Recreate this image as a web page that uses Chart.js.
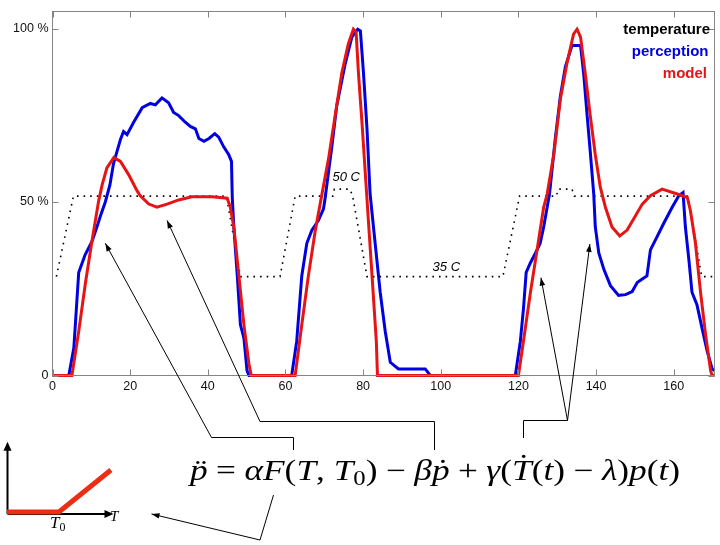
<!DOCTYPE html>
<html>
<head>
<meta charset="utf-8">
<script src="https://cdn.jsdelivr.net/npm/chart.js@4.4.1/dist/chart.umd.min.js"></script>
<style>
  html, body { margin: 0; padding: 0; background: #fff; }
  #wrap { position: relative; width: 720px; height: 545px; overflow: hidden; }
  #myChart { position: absolute; left: 0; top: 0; }
  #inset { position: absolute; left: 0; top: 430px; }
  .eq { position: absolute; left: 190px; top: 455.5px; font-family: 'Liberation Serif', serif; font-size: 29px;
        line-height: 1; white-space: nowrap; color: #000; transform-origin: 0 0; }
  .eq i { font-style: italic; }
  .op { margin: 0 0.24em; }
  .acc { position: relative; display: inline-block; }
  .acc .d { position: absolute; left: 0.12em; right: 0; text-align: center; top: 0; font-style: normal; }
  .acc .dT { position: absolute; left: 0.1em; right: 0; text-align: center; top: -0.14em; font-style: normal; }
  .sb { font-size: 0.7em; position: relative; top: 0.28em; }
  .lbl { position: absolute; font-family: 'Liberation Serif', serif; font-style: italic; color: #000; line-height: 1; white-space: nowrap; }
</style>
</head>
<body>
<div id="wrap">
  <canvas id="myChart" width="720" height="545"></canvas>
  <canvas id="inset" width="130" height="100"></canvas>
  <div class="eq" id="eq"><span class="acc"><i>p</i><span class="d">¨</span></span><span class="op">=</span><i>α</i><i>F</i>(<i>T</i>, <i>T</i><span class="sb">0</span>)<span class="op">−</span><i>β</i><span class="acc"><i>p</i><span class="d">˙</span></span><span class="op">+</span><i>γ</i>(<span class="acc"><i>T</i><span class="dT">˙</span></span>(<i>t</i>)<span class="op">−</span><i>λ</i>)<i>p</i>(<i>t</i>)</div>
  <div class="lbl" style="left:50px; top:514px; font-size:17px;">T<span class="sb" style="font-style:normal">0</span></div>
  <div class="lbl" style="left:110px; top:509px; font-size:15px;">T</div>
</div>
<script>
// time axis ticks
var xTicks = [0, 20, 40, 60, 80, 100, 120, 140, 160];
var yTicks = [0, 50, 100];
var yTickLabels = ['0', '50 %', '100 %'];

// temperature profile (plotted on the % scale)
var tempTime = [1, 5.4, 44.8, 48.4, 58.6, 62.5, 72.2, 72.6, 76.6, 77.3, 81, 116, 120.3, 129.8, 130.2, 133.8, 134.4, 163.7, 167.2, 170.5];
var tempLevel = [28.5, 51.7, 51.7, 28.5, 28.5, 51.7, 51.7, 53.7, 53.7, 51.7, 28.5, 28.5, 51.7, 51.7, 53.7, 53.7, 51.7, 51.7, 28.5, 28.5];

// perceived intensity (%)
var percTime = [0, 4.2, 5.5, 6.75, 8.4, 10.2, 11.5, 12.5, 13.6, 14.8, 15.7, 16.6, 17.5, 18.3, 19.2, 20.9, 23.1, 25.2, 26.5, 28.2,
  29.9, 31.2, 32.5, 34.2, 35.5, 36.8, 37.7, 39, 40.3, 41.8, 42.8, 44.1, 45.4, 46.1, 46.3, 46.7, 47.6, 48.4, 49.3, 50.1,
  50.6, 61.6, 62.9, 64.2, 65.5, 66.8, 68.5, 69.8, 70.2, 72, 73.2, 75.4, 77.1, 78.6, 79.3, 80.1, 81, 81.8, 83.1, 84.4,
  85.7, 87, 89.1, 96, 97.3, 119.2, 120.5, 121.3, 122, 123.1, 124.4, 125.6, 126.5, 127.4, 128, 129.5, 130.8, 132.1, 133.8, 136,
  136.8, 137.7, 138.5, 139.4, 139.8, 140.7, 142, 143.7, 145.8, 147.6, 149.3, 150.6, 151.9, 153.1, 154, 155.3, 157.4, 159.6, 161.3, 162.4,
  163, 163.9, 164.7, 166, 167.3, 168.6, 169.9, 170.5];
var percValues = [0, 0, 8, 29.7, 34.8, 38.7, 43, 46.5, 50, 55, 61, 64.5, 68, 70.3, 69.4, 73, 77.2, 78.4, 78, 80,
  78.6, 75.8, 74.9, 73, 71.8, 71.1, 68.3, 67.5, 68.3, 69.7, 68.7, 65.9, 63.6, 61.7, 51.3, 42.8, 28.7, 14.6, 10.8, 1.4,
  0, 0, 9.9, 28.7, 38.1, 41.9, 44.7, 48, 51, 66.4, 77.7, 89.9, 97.5, 99.8, 99.3, 87.1, 71.1, 52.3, 38.1, 24,
  12.7, 3.8, 1.9, 1.9, 0, 0, 9.9, 19.3, 29.7, 32.5, 35.3, 38.1, 42.8, 48.5, 52.3, 68.3, 80.5, 89, 95.1, 95.1,
  87.1, 74.9, 64.5, 52.3, 42.8, 35.3, 30.6, 25.9, 23.1, 23.3, 24.2, 26.8, 27.8, 28.7, 36.2, 39.1, 43.8, 48.5, 51.8, 52.7,
  42.8, 33.4, 24, 20.3, 13.6, 7.1, 1.9, 1.4];

// model output (%)
var modelTime = [0, 5, 6.75, 8.5, 10.2, 11.9, 12.8, 14, 15.8, 17.5, 19.6, 21.8, 22.6, 24.8, 26.9, 29.5, 32.5, 35.9, 41.1, 45,
  45.8, 46.7, 48, 49.3, 50.6, 51.2, 62.5, 64.2, 65.9, 67.7, 69.4, 71.1, 72.8, 74.5, 76.2, 77.5, 78.2, 78.8, 79.7, 81,
  82.3, 83.4, 83.7, 120, 121.3, 123.1, 124.8, 126.5, 127.4, 129.1, 130.8, 132.5, 134.2, 135.1, 136, 137.2, 138.5, 139.8, 141.1, 142.4,
  144.1, 146.1, 148, 149.7, 151.9, 154, 157, 160.9, 163.5, 164.3, 165.6, 166.9, 168.2, 169.5, 169.9, 170.5];
var modelValues = [0, 0, 12.7, 26.8, 39, 50.4, 55, 59.8, 62.8, 61.7, 57.9, 53.2, 51.8, 49.4, 48.5, 49.4, 50.6, 51.5, 51.5, 51.1,
  48.5, 42.8, 28.7, 14.6, 3.3, 0, 0, 14.6, 28.7, 41.9, 52.3, 62.5, 74.9, 87.1, 95.6, 99.8, 98.9, 87.1, 73, 50.8,
  28.7, 9.9, 0, 0, 9.9, 24, 36.2, 48.5, 52.3, 63.6, 79.6, 90, 98.4, 99.8, 97.5, 87.1, 74.9, 63.6, 54.2, 48.5,
  42.8, 40.2, 41.9, 45.2, 49.4, 51.8, 53.7, 52.3, 51.3, 47.5, 38.1, 24, 11.8, 1.4, 0, 0];

// inset: F(T, T0)
var insetT = [0, 1, 2];
var insetF = [0, 0, 1];

var legendNames = ['temperature', 'perception', 'model'];
var legendColors = ['#000000', '#0000e0', '#e51414'];

function zip(xs, ys) {
  return xs.map(function (v, i) { return { x: v, y: ys[i] }; });
}

function arrowHead(ctx, x0, y0, x1, y1, len, half) {
  var a = Math.atan2(y1 - y0, x1 - x0);
  var c = Math.cos(a), s = Math.sin(a);
  ctx.beginPath();
  ctx.moveTo(x1, y1);
  ctx.lineTo(x1 - len * c + half * s, y1 - len * s - half * c);
  ctx.lineTo(x1 - len * c - half * s, y1 - len * s + half * c);
  ctx.closePath();
  ctx.fill();
}

function polyArrow(ctx, pts) {
  // pts: from bracket end to arrow tip
  ctx.beginPath();
  ctx.moveTo(pts[0][0], pts[0][1]);
  for (var i = 1; i < pts.length; i++) ctx.lineTo(pts[i][0], pts[i][1]);
  ctx.stroke();
  var n = pts.length;
  arrowHead(ctx, pts[n - 2][0], pts[n - 2][1], pts[n - 1][0], pts[n - 1][1], 8, 2.8);
}

var overlay = {
  id: 'overlay',
  afterDraw: function (chart) {
    var ctx = chart.ctx, a = chart.chartArea, x = chart.scales.x, y = chart.scales.y;
    ctx.save();
    // frame with inward ticks
    ctx.strokeStyle = '#858585';
    ctx.lineWidth = 1;
    ctx.strokeRect(a.left, a.top, a.right - a.left, a.bottom - a.top);
    ctx.beginPath();
    xTicks.forEach(function (v) {
      var px = Math.round(x.getPixelForValue(v)) + 0.5;
      ctx.moveTo(px, a.bottom); ctx.lineTo(px, a.bottom - 6);
      ctx.moveTo(px, a.top); ctx.lineTo(px, a.top + 6);
    });
    yTicks.forEach(function (v) {
      var py = Math.round(y.getPixelForValue(v)) + 0.5;
      ctx.moveTo(a.left, py); ctx.lineTo(a.left + 6, py);
      ctx.moveTo(a.right, py); ctx.lineTo(a.right - 6, py);
    });
    ctx.stroke();

    // legend
    ctx.font = 'bold 15px "Liberation Sans", Arial, sans-serif';
    ctx.textAlign = 'right';
    ctx.textBaseline = 'middle';
    legendNames.forEach(function (n, i) {
      ctx.fillStyle = legendColors[i];
      ctx.fillText(n, 710 - i * 1.5, 30 + i * 21.7);
    });

    // temperature level labels
    ctx.font = 'italic 13px "Liberation Sans", Arial, sans-serif';
    ctx.textAlign = 'left';
    ctx.fillStyle = '#000';
    ctx.fillText('50 C', x.getPixelForValue(72.1), y.getPixelForValue(57));
    ctx.fillText('35 C', x.getPixelForValue(97.9), y.getPixelForValue(31.1));

    // annotation arrows from the equation to the curves
    ctx.strokeStyle = '#000';
    ctx.fillStyle = '#000';
    ctx.lineWidth = 1;
    polyArrow(ctx, [[293.5, 450], [293.5, 437.5], [211.5, 437.5], [x.getPixelForValue(13.6), y.getPixelForValue(38.1)]]);
    polyArrow(ctx, [[434.5, 450], [434.5, 421.5], [260, 421.5], [x.getPixelForValue(29.5), y.getPixelForValue(44.7)]]);
    polyArrow(ctx, [[523.5, 438], [523.5, 420.5], [567.5, 420.5], [x.getPixelForValue(125.8), y.getPixelForValue(28.2)]]);
    polyArrow(ctx, [[567.5, 420.5], [x.getPixelForValue(138.4), y.getPixelForValue(37.9)]]);
    polyArrow(ctx, [[273.5, 495], [260, 540], [151.5, 514]]);
    ctx.restore();
  }
};

var ctx = document.getElementById('myChart').getContext('2d');
var chart = new Chart(ctx, {
  type: 'line',
  data: {
    datasets: [{
      label: 'model',
      data: zip(modelTime, modelValues),
      borderColor: 'rgb(230, 20, 20)',
      borderWidth: 3,
      pointRadius: 0,
      tension: 0,
      clip: false
    }, {
      label: 'perception',
      data: zip(percTime, percValues),
      borderColor: 'rgb(0, 0, 225)',
      borderWidth: 3,
      pointRadius: 0,
      tension: 0,
      clip: false
    }, {
      label: 'temperature',
      data: zip(tempTime, tempLevel),
      borderColor: 'rgb(0, 0, 0)',
      borderWidth: 1.6,
      borderDash: [1.6, 5],
      pointRadius: 0,
      tension: 0
    }]
  },
  options: {
    responsive: false,
    animation: false,
    layout: { padding: { top: 3.5, right: 5.5, left: 0, bottom: 0 } },
    plugins: { legend: { display: false }, tooltip: { enabled: false } },
    scales: {
      x: {
        type: 'linear', min: 0, max: 170.5,
        grid: { display: false, drawTicks: false },
        border: { display: false },
        ticks: { color: '#111', padding: 4, maxRotation: 0, font: { family: '"Liberation Sans", Arial, sans-serif', size: 12.5 } },
        afterBuildTicks: function (s) { s.ticks = xTicks.map(function (v) { return { value: v }; }); },
        afterFit: function (s) { s.height = 169.5; }
      },
      y: {
        min: 0, max: 104.9,
        grid: { display: false, drawTicks: false },
        border: { display: false },
        ticks: {
          color: '#111', padding: 4, font: { family: '"Liberation Sans", Arial, sans-serif', size: 12.5 },
          callback: function (v, i) { return yTickLabels[i]; }
        },
        afterBuildTicks: function (s) { s.ticks = yTicks.map(function (v) { return { value: v }; }); },
        afterFit: function (s) { s.width = 52.5; }
      }
    }
  },
  plugins: [overlay]
});

// inset sketch of F(T, T0)
var insetAxes = {
  id: 'insetAxes',
  beforeDatasetsDraw: function (c) {
    var g = c.ctx, a = c.chartArea;
    g.save();
    g.strokeStyle = '#000';
    g.fillStyle = '#000';
    g.lineWidth = 2;
    g.beginPath();
    g.moveTo(a.left + 0.5, a.bottom + 2); g.lineTo(a.left + 0.5, a.top + 6);
    g.moveTo(a.left + 0.5, a.bottom + 2); g.lineTo(a.right - 6, a.bottom + 2);
    g.stroke();
    arrowHead(g, a.left + 0.5, a.bottom, a.left + 0.5, a.top, 9, 4);
    arrowHead(g, a.left, a.bottom + 2, a.right, a.bottom + 2, 9, 4);
    g.restore();
  }
};
new Chart(document.getElementById('inset').getContext('2d'), {
  type: 'line',
  data: {
    datasets: [{
      data: zip(insetT, insetF),
      borderColor: 'rgb(235, 45, 20)',
      borderWidth: 5,
      pointRadius: 0,
      tension: 0,
      clip: false
    }]
  },
  options: {
    responsive: false,
    animation: false,
    layout: { padding: { left: 7, right: 16.5, top: 11.7, bottom: 18 } },
    plugins: { legend: { display: false }, tooltip: { enabled: false } },
    scales: {
      x: { type: 'linear', display: false, min: 0, max: 2.05 },
      y: { display: false, min: 0, max: 1.674 }
    }
  },
  plugins: [insetAxes]
});

// stretch the equation to the reference width
var eq = document.getElementById('eq');
var w = eq.getBoundingClientRect().width;
eq.style.transform = 'scaleX(' + (490 / w) + ')';
</script>
</body>
</html>
